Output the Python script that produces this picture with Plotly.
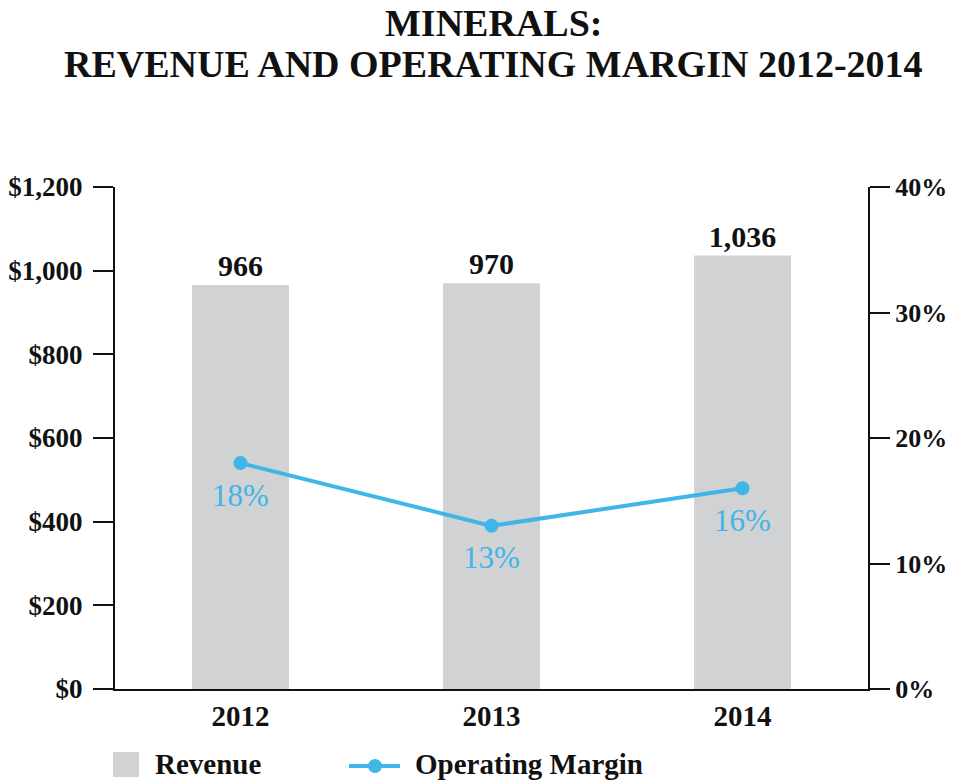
import plotly.graph_objects as go

# Data
years = ["2012", "2013", "2014"]
revenue = [966, 970, 1036]
margin = [0.18, 0.13, 0.16]
revenue_labels = ["966", "970", "1,036"]
margin_labels = ["18%", "13%", "16%"]
rev_ticks = [0, 200, 400, 600, 800, 1000, 1200]
rev_tick_text = ["$0", "$200", "$400", "$600", "$800", "$1,000", "$1,200"]
pct_ticks = [0, 0.1, 0.2, 0.3, 0.4]

SERIF = "Liberation Serif"
BAR_GREY = "#d1d2d4"
BLUE = "#3fb5e8"
INK = "#111111"

# the page body keeps an 8px margin, so the figure is drawn 8px smaller
OFF = 8
W, H = 954 - OFF, 784 - OFF
L, R, T, B = 115 - OFF, 86, 187 - OFF, 95
PW, PH = W - L - R, H - T - B


def px(x):
    # window pixel -> paper x
    return (x - OFF - L) / PW


def py(y):
    # window pixel -> paper y
    return (H - B - (y - OFF)) / PH


fig = go.Figure()

fig.add_trace(
    go.Bar(
        x=years,
        y=revenue,
        name="Revenue",
        marker=dict(color=BAR_GREY, line=dict(width=0)),
        width=0.386,
        text=revenue_labels,
        textposition="outside",
        textfont=dict(family=SERIF, size=30, color=INK, weight="bold"),
        cliponaxis=False,
    )
)

fig.add_trace(
    go.Scatter(
        x=years,
        y=margin,
        name="Operating Margin",
        yaxis="y2",
        mode="lines+markers",
        line=dict(color=BLUE, width=4),
        marker=dict(color=BLUE, size=14),
        cliponaxis=False,
    )
)

# margin labels sit just under each point (x given as category index)
annotations = [
    dict(text=lab, x=i, y=m, xref="x", yref="y2", yshift=-32,
         xanchor="center", yanchor="middle", showarrow=False,
         font=dict(family=SERIF, size=31, color=BLUE))
    for i, (m, lab) in enumerate(zip(margin, margin_labels))
]

# title, two lines placed separately
title_font = dict(family=SERIF, size=38, color=INK, weight="bold")
annotations += [
    dict(text="MINERALS:", x=px(493), y=py(23), xref="paper", yref="paper",
         xanchor="center", yanchor="middle", height=28, showarrow=False,
         font=title_font),
    dict(text="REVENUE AND OPERATING MARGIN 2012-2014", x=px(493), y=py(64),
         xref="paper", yref="paper", xanchor="center", yanchor="middle",
         showarrow=False, font=title_font),
]

# legend drawn by hand to match the large swatches
legend_font = dict(family=SERIF, size=29, color=INK, weight="bold")
annotations += [
    dict(text="Revenue", x=px(153), y=py(764), xref="paper", yref="paper",
         xanchor="left", yanchor="middle", showarrow=False, font=legend_font),
    dict(text="Operating Margin", x=px(413), y=py(764), xref="paper", yref="paper",
         xanchor="left", yanchor="middle", showarrow=False, font=legend_font),
]
shapes = [
    dict(type="rect", xref="paper", yref="paper", x0=px(113), x1=px(139),
         y0=py(777), y1=py(752), fillcolor=BAR_GREY, line=dict(width=0)),
    dict(type="line", xref="paper", yref="paper", x0=px(349), x1=px(400),
         y0=py(766), y1=py(766), line=dict(color=BLUE, width=4)),
    dict(type="circle", xref="paper", yref="paper", x0=px(368), x1=px(382),
         y0=py(773), y1=py(759), fillcolor=BLUE, line=dict(width=0)),
]

fig.update_layout(
    width=W,
    height=H,
    paper_bgcolor="white",
    plot_bgcolor="white",
    margin=dict(l=L, r=R, t=T, b=B, autoexpand=False),
    font=dict(family=SERIF, color=INK),
    showlegend=False,
    annotations=annotations,
    shapes=shapes,
    xaxis=dict(
        type="category",
        range=[-0.5, 2.5],
        showline=True,
        linecolor=INK,
        linewidth=2,
        ticks="",
        tickfont=dict(family=SERIF, size=29, color=INK, weight="bold"),
        showgrid=False,
    ),
    yaxis=dict(
        range=[0, 1200],
        tickvals=rev_ticks,
        ticktext=rev_tick_text,
        showline=True,
        linecolor=INK,
        linewidth=2,
        ticks="outside",
        ticklen=20,
        tickwidth=2,
        tickcolor=INK,
        showgrid=False,
        zeroline=False,
        tickfont=dict(family=SERIF, size=27, color=INK, weight="bold"),
        ticklabelstandoff=5,
    ),
    yaxis2=dict(
        overlaying="y",
        side="right",
        range=[0, 0.4],
        tickvals=pct_ticks,
        tickformat=".0%",
        showline=True,
        linecolor=INK,
        linewidth=2,
        ticks="outside",
        ticklen=20,
        tickwidth=2,
        tickcolor=INK,
        showgrid=False,
        zeroline=False,
        tickfont=dict(family=SERIF, size=26, color=INK, weight="bold"),
        ticklabelstandoff=0,
    ),
)

fig.write_html("out.html")
